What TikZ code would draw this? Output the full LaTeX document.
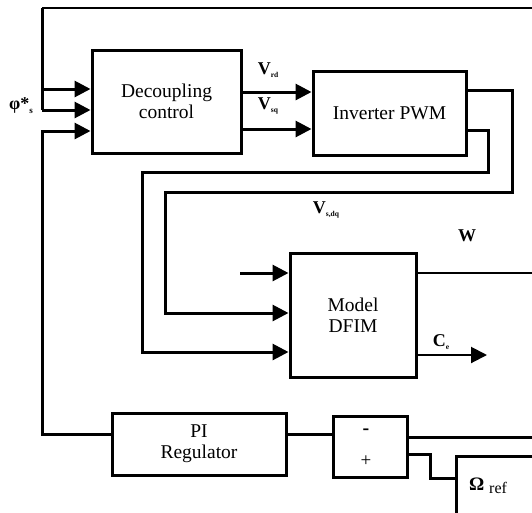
\documentclass[tikz,border=0pt]{standalone}
\usepackage{fontspec}
\setmainfont{Liberation Serif}
\usetikzlibrary{arrows.meta,calc}
\tikzset{
  blk/.style={draw=black,line width=3pt,rectangle,inner sep=0pt,align=center,font=\fontsize{19.5}{21}\selectfont},
  wire/.style={draw=black,line width=3pt},
  thin wire/.style={draw=black,line width=2pt},
  arr/.style={-{Triangle[length=16pt,width=16pt]}},
  lbl/.style={inner sep=0pt,font=\fontsize{18}{18}\selectfont\bfseries},
}
\newcommand{\sbs}[1]{\raisebox{-3.5pt}{\fontsize{7.5}{7.5}\selectfont\bfseries #1}}
\begin{document}
\begin{tikzpicture}[x=1pt,y=-1pt]
\clip (0,0) rectangle (532,512);
\fill[white] (0,0) rectangle (532,512);
% blocks
\node[blk,minimum width=149pt,minimum height=103pt] (dec) at (166.5,101.5) {Decoupling\\control};
\node[blk,minimum width=153pt,minimum height=84pt] (inv) at (389.5,113) {Inverter PWM};
\node[blk,minimum width=126pt,minimum height=124pt] (dfim) at (353,315) {Model\\DFIM};
\node[blk,minimum width=174pt,minimum height=62pt] (pi) at (199,444) {PI\\Regulator};
\node[blk,minimum width=74pt,minimum height=61pt] (sum) at (370,446.5) {};
\node[blk,minimum width=110pt,minimum height=90pt] (ome) at (511,501) {};
% sum signs
\node[inner sep=0pt,font=\fontsize{20}{20}\selectfont\bfseries] (minus) at (366,432) {-};
\node[inner sep=0pt,font=\fontsize{19}{19}\selectfont] (plus) at (366,461) {+};
% coordinates
\coordinate (ctop) at (42,8);
\coordinate (ctopr) at (532,8);
\coordinate (cin) at (240,273);
\coordinate (cw) at (532,273);
\coordinate (cce) at (487,355);
\coordinate (csum) at (532,437);
% feedback from top
\draw[wire] (42,110) -- (ctop);
\draw[thin wire] (ctop) -- (ctopr);
\draw[wire,arr] (42,89) -- (dec.west |- 0,89);
\draw[wire,arr] (42,110) -- (dec.west |- 0,110);
% PI loop back to decoupling
\draw[wire,arr] (pi.west |- 0,434) -- (42,434) -- (42,131) -- (dec.west |- 0,131);
\draw[wire] (pi.east |- 0,434) -- (sum.west |- 0,434);
\draw[wire] (sum.east |- 0,437) -- (csum);
\draw[wire] (sum.east |- 0,454) -- (430,454) -- (430,478) -- (ome.west |- 0,478);
% decoupling to inverter
\draw[wire,arr] (dec.east |- 0,92) -- (inv.west |- 0,92);
\draw[wire,arr] (dec.east |- 0,129) -- (inv.west |- 0,129);
% inverter to DFIM
\draw[wire,arr] (inv.east |- 0,90) -- (512,90) -- (512,192) -- (165,192) -- (165,313) -- (dfim.west |- 0,313);
\draw[wire,arr] (inv.east |- 0,130) -- (488,130) -- (488,172) -- (142,172) -- (142,352) -- (dfim.west |- 0,352);
\draw[wire,arr] (cin) -- (dfim.west |- cin);
% DFIM outputs
\draw[thin wire] (dfim.east |- cw) -- (cw);
\draw[thin wire,arr] (dfim.east |- cce) -- (cce);
% labels
\node[lbl] (phis) at (21,106) {φ*\raisebox{-4pt}{\fontsize{9}{9}\selectfont s}};
\node[lbl] (vrd) at (268,70) {V\sbs{rd}};
\node[lbl] (vsq) at (268,106) {V\sbs{sq}};
\node[lbl] (vsdq) at (326,210) {V\sbs{s,dq}};
\node[lbl] (w) at (467,236) {W};
\node[lbl] (ce) at (441,342) {C\sbs{e}};
\node[inner sep=0pt,anchor=base west] (omtxt) at (469,490) {\fontsize{19}{19}\selectfont\bfseries Ω \raisebox{-3pt}{\fontsize{16}{16}\selectfont\mdseries ref}};
\end{tikzpicture}
\end{document}
